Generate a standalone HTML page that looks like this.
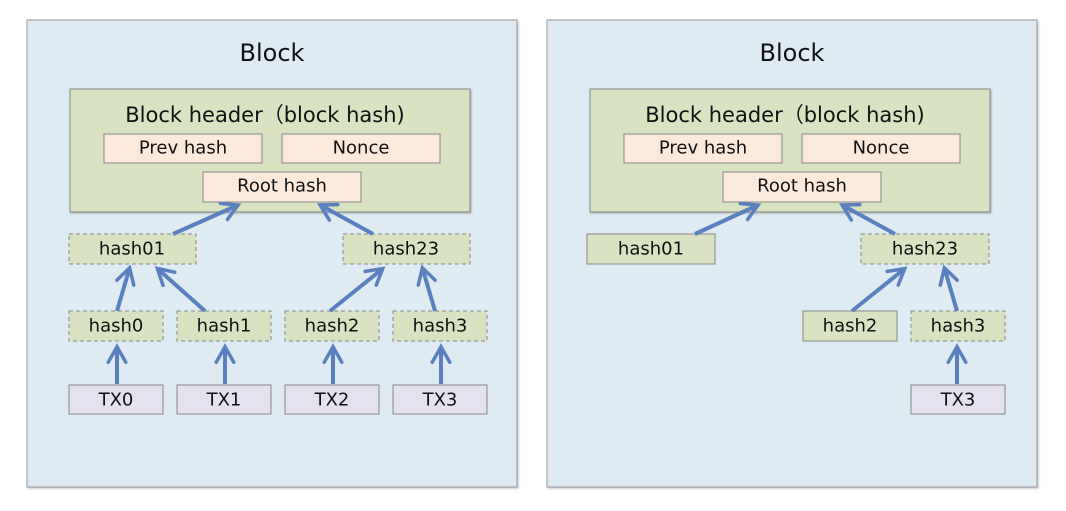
<!DOCTYPE html>
<html><head><meta charset="utf-8"><style>
html,body{margin:0;padding:0;background:#fff;}
svg text{font-family:"DejaVu Sans","Liberation Sans",sans-serif;fill:#111;text-anchor:middle;dominant-baseline:central;}
</style></head><body>
<svg width="1066" height="506" viewBox="0 0 1066 506" xmlns="http://www.w3.org/2000/svg">
<defs>
<filter id="sh" x="-5%" y="-5%" width="115%" height="115%"><feDropShadow dx="1" dy="1" stdDeviation="1" flood-color="#000" flood-opacity="0.25"/></filter>
<marker id="ah" viewBox="0 0 10 10" refX="7" refY="5" markerWidth="5.5" markerHeight="5.5" orient="auto"><path d="M1,1 L8,5 L1,9" fill="none" stroke="#5a80c0" stroke-width="1.6" stroke-linecap="round"/></marker>
</defs>
<g id="L">
<rect x="27" y="20" width="490" height="467" fill="#deebf2" stroke="#999" filter="url(#sh)"/>
<text x="272" y="53" font-size="24">Block</text>
<rect x="70" y="89" width="400" height="123" fill="#d9e3c2" stroke="#888" filter="url(#sh)"/>
<text x="265" y="115" font-size="21">Block header（block hash)</text>
<rect x="104" y="134" width="158" height="29" fill="#fbe9dc" stroke="#888"/>
<text x="183" y="148" font-size="18">Prev hash</text>
<rect x="282" y="134" width="158" height="29" fill="#fbe9dc" stroke="#888"/>
<text x="361" y="148" font-size="18">Nonce</text>
<rect x="203" y="172" width="158" height="30" fill="#fbe9dc" stroke="#888"/>
<text x="282" y="186" font-size="18">Root hash</text>
</g>
<g fill="#d9e3c2" stroke="#888" stroke-dasharray="4,3">
<rect x="69" y="234" width="127" height="30"/><rect x="343" y="234" width="127" height="30"/>
<rect x="69" y="311" width="94" height="30"/><rect x="177" y="311" width="94" height="30"/>
<rect x="285" y="311" width="94" height="30"/><rect x="393" y="311" width="94" height="30"/>
</g>
<g fill="#e5e1ee" stroke="#888">
<rect x="69" y="385" width="94" height="29"/><rect x="177" y="385" width="94" height="29"/>
<rect x="285" y="385" width="94" height="29"/><rect x="393" y="385" width="94" height="29"/>
</g>
<g font-size="18">
<text x="132" y="249">hash01</text><text x="406" y="249">hash23</text>
<text x="116" y="326">hash0</text><text x="224" y="326">hash1</text><text x="332" y="326">hash2</text><text x="440" y="326">hash3</text>
<text x="116" y="400">TX0</text><text x="224" y="400">TX1</text><text x="332" y="400">TX2</text><text x="440" y="400">TX3</text>
</g>
<g stroke="#5a80c0" stroke-width="4" marker-end="url(#ah)" fill="none">
<line x1="173" y1="234" x2="236" y2="206"/><line x1="373" y1="234" x2="322" y2="206"/>
<line x1="117" y1="311" x2="129" y2="270"/><line x1="205" y1="311" x2="159" y2="270"/>
<line x1="330" y1="311" x2="381" y2="270"/><line x1="435" y1="311" x2="423" y2="270"/>
<line x1="117" y1="384" x2="117" y2="349"/><line x1="225" y1="384" x2="225" y2="349"/>
<line x1="333" y1="384" x2="333" y2="349"/><line x1="441" y1="384" x2="441" y2="349"/>
</g>
<use href="#L" x="520"/>
<rect x="587" y="234" width="128" height="30" fill="#d9e3c2" stroke="#888"/>
<rect x="861" y="234" width="128" height="30" fill="#d9e3c2" stroke="#888" stroke-dasharray="4,3"/>
<rect x="803" y="311" width="94" height="30" fill="#d9e3c2" stroke="#888"/>
<rect x="911" y="311" width="94" height="30" fill="#d9e3c2" stroke="#888" stroke-dasharray="4,3"/>
<rect x="911" y="385" width="94" height="29" fill="#e5e1ee" stroke="#888"/>
<g font-size="18">
<text x="651" y="249">hash01</text><text x="925" y="249">hash23</text>
<text x="850" y="326">hash2</text><text x="958" y="326">hash3</text><text x="958" y="400">TX3</text>
</g>
<g stroke="#5a80c0" stroke-width="4" marker-end="url(#ah)" fill="none">
<line x1="695" y1="234" x2="756" y2="206"/><line x1="895" y1="234" x2="844" y2="206"/>
<line x1="852" y1="311" x2="903" y2="270"/><line x1="957" y1="311" x2="945" y2="270"/>
<line x1="957" y1="384" x2="957" y2="349"/>
</g>
</svg>
</body></html>
